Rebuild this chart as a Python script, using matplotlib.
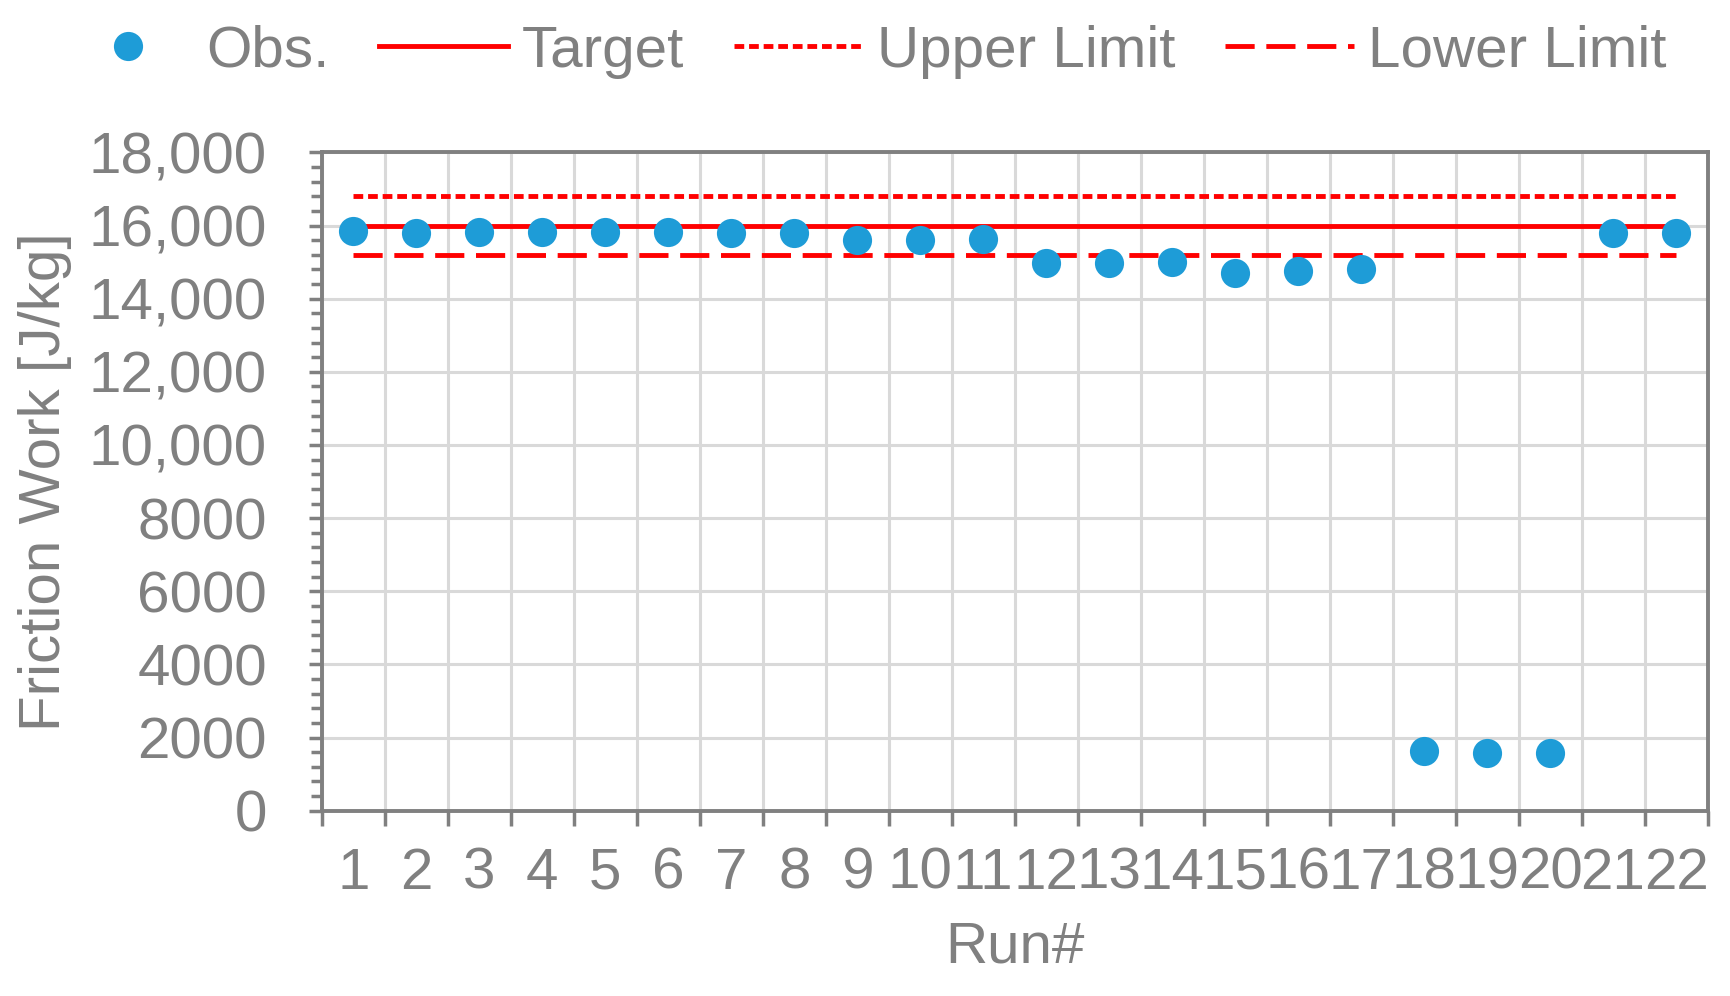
import matplotlib
matplotlib.use("Agg")
import matplotlib.pyplot as plt
from matplotlib.ticker import FixedLocator, FuncFormatter, MultipleLocator

plt.rcParams['font.family'] = ['Liberation Sans', 'DejaVu Sans']

# Data
runs = list(range(1, 23))
obs = [15850, 15800, 15820, 15820, 15820, 15820, 15800, 15800, 15600, 15600,
       15640, 14970, 14970, 14990, 14700, 14750, 14800, 1620, 1570, 1590,
       15800, 15790]
target = 16000
upper = 16800
lower = 15200

gray = '#808080'
red = '#ff0000'
blue = '#1e9cd7'
fs = 42

fig = plt.figure(figsize=(17.3, 9.96), dpi=100)
ax = fig.add_axes([0.186, 0.186, 0.801, 0.661])

# Limit lines, spanning first to last run
ax.plot([runs[0], runs[-1]], [target] * 2, color=red, lw=3.5, label='Target', zorder=3)
ax.plot([runs[0], runs[-1]], [upper] * 2, color=red, lw=3.5, dashes=(2.0, 1.0),
        label='Upper Limit', zorder=3)
ax.plot([runs[0], runs[-1]], [lower] * 2, color=red, lw=3.5, dashes=(6.0, 2.4),
        label='Lower Limit', zorder=3)
ax.plot(runs, obs, 'o', color=blue, markersize=21, markeredgewidth=0,
        label='Obs.', zorder=4)

# Axes
ax.set_xlim(0.5, 22.5)
ax.set_ylim(0, 18000)
ax.xaxis.set_major_locator(FixedLocator([r - 0.5 for r in runs] + [22.5]))
ax.xaxis.set_minor_locator(FixedLocator(runs))
ax.xaxis.set_major_formatter(FuncFormatter(lambda v, p: ''))
ax.xaxis.set_minor_formatter(FuncFormatter(lambda v, p: '%d' % round(v)))
ax.yaxis.set_major_locator(MultipleLocator(2000))
ax.yaxis.set_minor_locator(MultipleLocator(400))
ax.yaxis.set_major_formatter(FuncFormatter(
    lambda v, p: '{:,.0f}'.format(v) if v >= 10000 else '%d' % v))

ax.tick_params(axis='x', which='major', length=10.8, width=2.5, color=gray)
ax.tick_params(axis='x', which='minor', length=0, pad=26, labelsize=fs,
               labelcolor=gray)
ax.tick_params(axis='y', which='major', length=9.6, width=2.5, color=gray,
               pad=30, labelsize=fs, labelcolor=gray)
ax.tick_params(axis='y', which='minor', length=7.7, width=2.5, color=gray)

ax.grid(True, which='major', color='#d9d9d9', lw=2.2, zorder=0)
ax.set_axisbelow(True)
for s in ax.spines.values():
    s.set_color(gray)
    s.set_linewidth(2.8)

ax.set_xlabel('Run#', fontsize=fs, color=gray, labelpad=14)
ax.set_ylabel('Friction Work [J/kg]', fontsize=fs, color=gray, labelpad=12)

h, l = ax.get_legend_handles_labels()
order = [3, 0, 1, 2]
leg = fig.legend([h[i] for i in order], [l[i] for i in order], loc='upper center',
                 bbox_to_anchor=(0.5, 1.028), ncol=4, frameon=False, fontsize=fs,
                 handlelength=2.2, handletextpad=0.25, columnspacing=0.85,
                 labelcolor=gray)

fig.savefig('out.png', dpi=100)
